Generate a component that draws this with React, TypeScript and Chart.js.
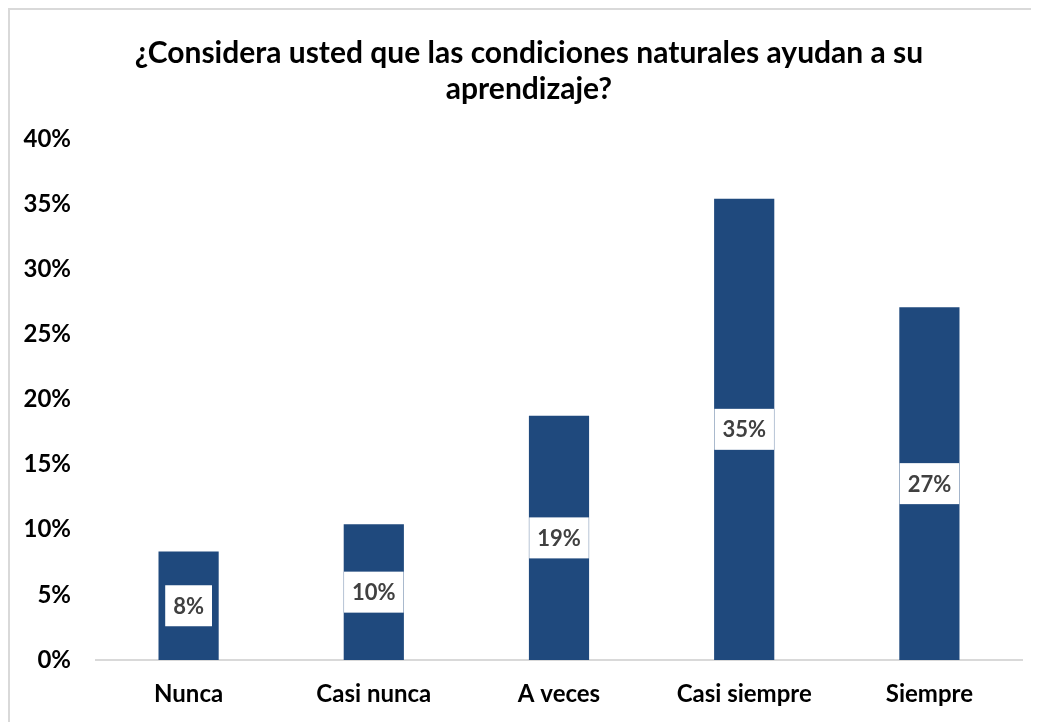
import React, { useEffect, useRef } from "react";
import { Chart, registerables } from "chart.js";

Chart.register(...registerables);

const titleLines = ["¿Considera usted que las condiciones naturales ayudan a su", "aprendizaje?"];
const categories = ["Nunca", "Casi nunca", "A veces", "Casi siempre", "Siempre"];
const values = [8.33, 10.42, 18.75, 35.42, 27.08];
const valueLabels = ["8%", "10%", "19%", "35%", "27%"];
const yTicks = [0, 5, 10, 15, 20, 25, 30, 35, 40];

const FONT = "Lato, 'Open Sans', sans-serif";

const titlePlugin = {
  id: "customTitle",
  afterDraw(chart: any) {
    const ctx = chart.ctx;
    ctx.save();
    ctx.font = `bold 30px ${FONT}`;
    ctx.fillStyle = "#000000";
    ctx.textAlign = "center";
    ctx.textBaseline = "middle";
    const cx = 519;
    ctx.fillText(titleLines[0], cx, 43);
    ctx.fillText(titleLines[1], cx, 79);
    ctx.restore();
  },
};

const labelPlugin = {
  id: "boxLabels",
  afterDatasetsDraw(chart: any) {
    const ctx = chart.ctx;
    const meta = chart.getDatasetMeta(0);
    ctx.save();
    ctx.font = `bold 22px ${FONT}`;
    ctx.textAlign = "center";
    ctx.textBaseline = "middle";
    meta.data.forEach((bar: any, i: number) => {
      const text = valueLabels[i];
      const cx = bar.x;
      const cy = (bar.y + bar.base) / 2;
      const w = ctx.measureText(text).width + 16;
      const h = 41;
      ctx.fillStyle = "#ffffff";
      ctx.fillRect(cx - w / 2, cy - h / 2, w, h);
      ctx.fillStyle = "#404040";
      ctx.fillText(text, cx, cy + 1);
    });
    ctx.restore();
  },
};

export default function App() {
  const ref = useRef<HTMLCanvasElement>(null);
  useEffect(() => {
    if (!ref.current) return;
    const chart = new Chart(ref.current, {
      type: "bar",
      data: {
        labels: categories,
        datasets: [
          {
            data: values,
            backgroundColor: "#1F497D",
            categoryPercentage: 1,
            barPercentage: 0.325,
          },
        ],
      },
      options: {
        animation: false,
        responsive: false,
        maintainAspectRatio: false,
        layout: { padding: { left: 0, right: 17, top: 129, bottom: 0 } },
        plugins: {
          legend: { display: false },
          tooltip: { enabled: false },
          title: { display: false },
        },
        scales: {
          x: {
            grid: { display: false, drawTicks: false },
            border: { display: true, color: "#d9d9d9", width: 2 },
            ticks: {
              color: "#000000",
              font: { family: FONT, size: 24, weight: "bold" },
              padding: 20,
            },
            afterFit(scale: any) {
              scale.height = 62;
            },
          },
          y: {
            min: 0,
            max: 40,
            afterBuildTicks(scale: any) {
              scale.ticks = yTicks.map((v) => ({ value: v }));
            },
            grid: { display: false, drawTicks: false },
            border: { display: false },
            ticks: {
              color: "#000000",
              font: { family: FONT, size: 24, weight: "bold" },
              padding: 25,
              callback: (v: any) => `${v}%`,
            },
            afterFit(scale: any) {
              scale.width = 86;
            },
          },
        },
      },
      plugins: [labelPlugin, titlePlugin],
    });
    return () => chart.destroy();
  }, []);

  return (
    <div
      style={{
        borderLeft: "2px solid #d9d9d9",
        borderTop: "2px solid #d9d9d9",
        width: 1029,
        height: 712,
        background: "#ffffff",
      }}
    >
      <canvas ref={ref} width={1029} height={712} style={{ display: "block" }} />
    </div>
  );
}
